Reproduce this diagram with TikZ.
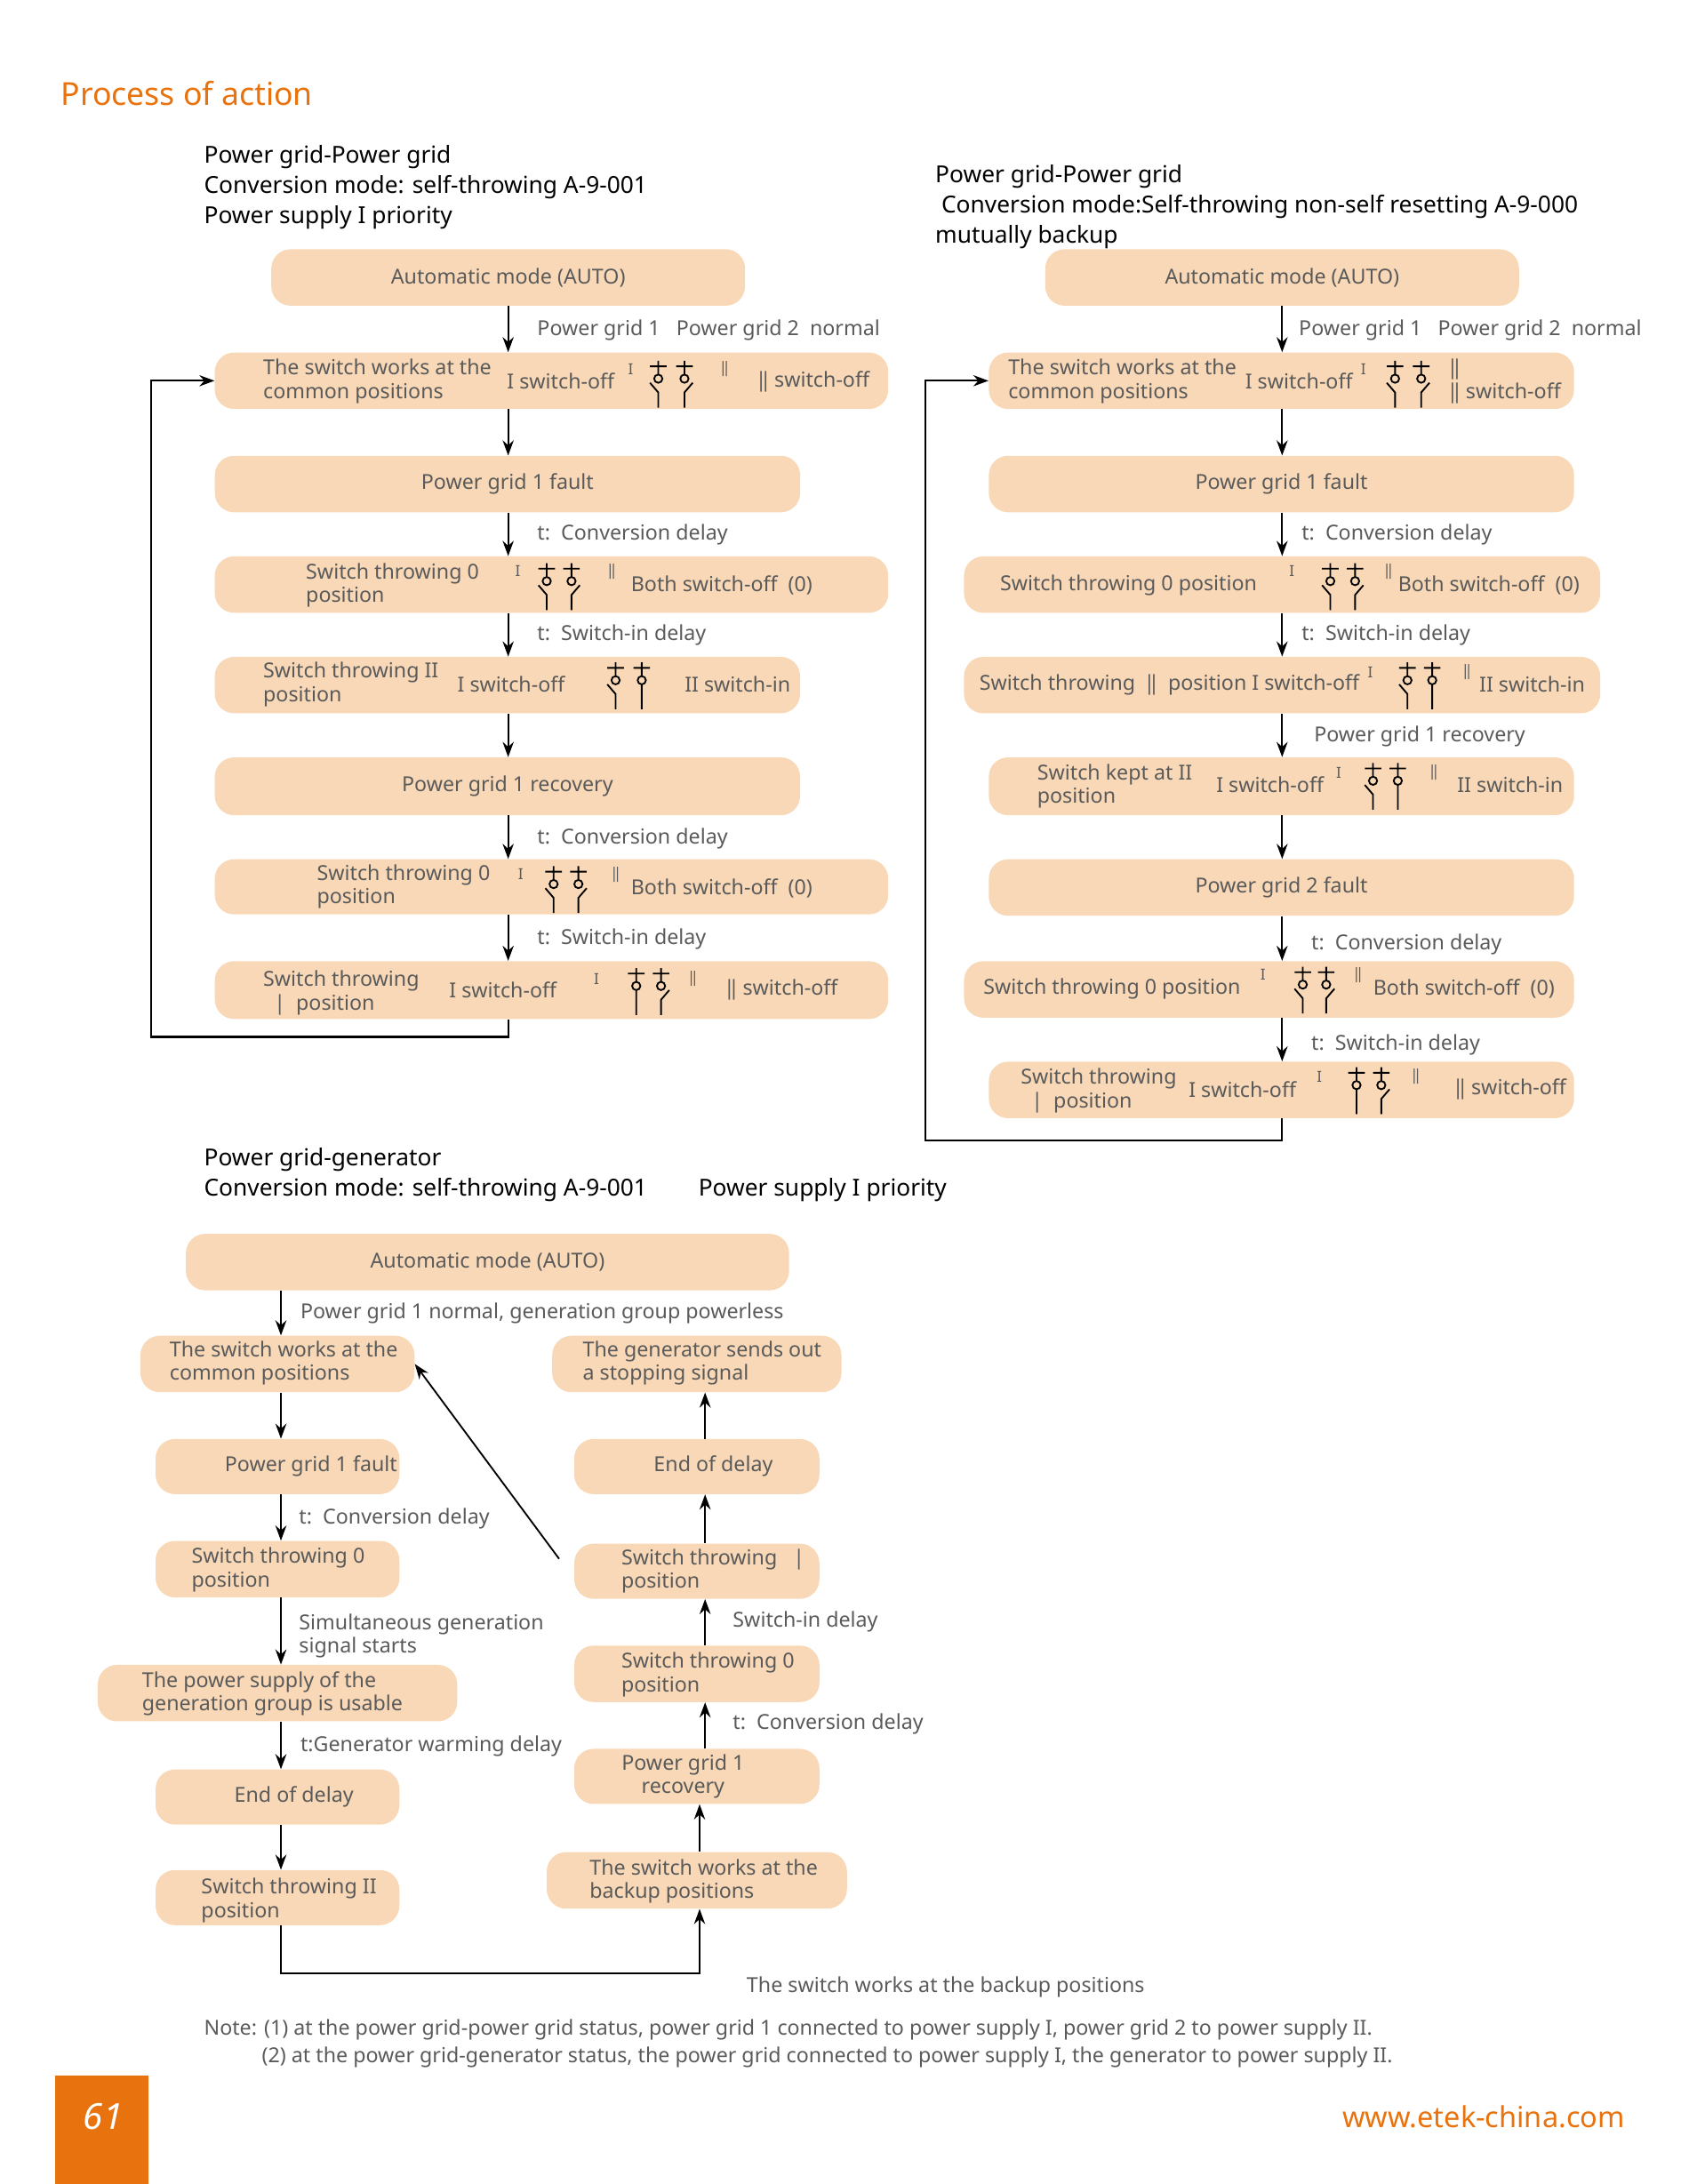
\documentclass[tikz,border=0pt]{standalone}
\usepackage{fontspec}
\setmainfont{Noto Sans}
\usetikzlibrary{arrows.meta}
\definecolor{boxc}{HTML}{F8D8B6}
\definecolor{txt}{HTML}{5A5A5A}
\definecolor{org}{HTML}{E8730E}
\tikzset{
 box/.style={fill=boxc,rounded corners=14pt,draw=none,inner sep=0},
 t/.style={anchor=west,text=txt,font=\fontsize{15}{17}\selectfont,inner sep=0,align=left},
 tc/.style={text=txt,font=\fontsize{15}{17}\selectfont,inner sep=0,align=center},
 ttl/.style={anchor=west,text=black,font=\fontsize{17}{22}\selectfont,inner sep=0,align=left},
 arr/.style={-{Stealth[length=11pt,width=8pt]},line width=1.4pt},
 ln/.style={line width=1.4pt},
 sym/.style={line width=1.2pt,black},
 swC/.pic={\draw[sym] (-6,-13)--(6,-13) (0,-17)--(0,-7) (0,-4) circle (3) (0,-1)--(0,17);},
 swR/.pic={\draw[sym] (-6,-13)--(6,-13) (0,-17)--(0,-7) (0,-4) circle (3) (6,-1)--(0,6)--(0,17);},
 swL/.pic={\draw[sym] (-6,-13)--(6,-13) (0,-17)--(0,-7) (0,-4) circle (3) (-6,-1)--(0,6)--(0,17);},
}
\newcommand\pb[5]{\node[box,minimum width={(#3-#2)*1pt},minimum height={(#5-#4)*1pt}] (#1) at ({(#2+#3)/2},{(#4+#5)/2}) {};}
\begin{document}
\begin{tikzpicture}[x=1pt,y=-1pt]
\useasboundingbox (0,0) rectangle (1232,1586);
\node[anchor=west,text=org,font=\bfseries\fontsize{23}{26}\selectfont,inner sep=0] (head) at (44,68) {Process of action};
% ===== left column =====
\node[ttl] (tl1) at (148,114) {Power grid-Power grid};
\node[ttl] (tl2) at (148,136) {Conversion mode: self-throwing A-9-001};
\node[ttl] (tl3) at (148,158) {Power supply I priority};
\coordinate (cL) at (369,0);
\pb{a1}{197}{541}{181}{222}\node[tc] (a1t) at (a1) {Automatic mode (AUTO)};
\pb{a2}{156}{645}{256}{297}
\node[t] (a2a) at (191,277) {The switch works at the\\common positions};
\node[t] (a2b) at (368,277) {I switch-off};
\node[t,font=\fontsize{11}{12}\selectfont] (a2c) at (456,268) {I};
\pic at (478,279) {swL};\pic at (497,279) {swR};
\node[t,font=\fontsize{11}{12}\selectfont] (a2d) at (523,268) {‖};
\node[t] (a2e) at (550,277) {‖ switch-off};
\pb{a3}{156}{581}{331}{372}\node[tc] (a3t) at (a3) {Power grid 1 fault};
\pb{a4}{156}{645}{404}{445}
\node[t] (a4a) at (222,425) {Switch throwing 0\\position};
\node[t,font=\fontsize{11}{12}\selectfont] (a4b) at (374,415) {I};
\pic at (397,426) {swL};\pic at (415,426) {swR};
\node[t,font=\fontsize{11}{12}\selectfont] (a4c) at (441,415) {‖};
\node[t] (a4d) at (458,425) {Both switch-off\ \ (0)};
\pb{a5}{156}{581}{477}{518}
\node[t] (a5a) at (191,497) {Switch throwing II\\position};
\node[t] (a5b) at (332,497) {I switch-off};
\pic at (447,498) {swL};\pic at (466,498) {swC};
\node[t] (a5c) at (497,497) {II switch-in};
\pb{a6}{156}{581}{550}{592}\node[tc] (a6t) at (a6) {Power grid 1 recovery};
\pb{a7}{156}{645}{624}{664}
\node[t] (a7a) at (230,644) {Switch throwing 0\\position};
\node[t,font=\fontsize{11}{12}\selectfont] (a7b) at (376,635) {I};
\pic at (402,646) {swL};\pic at (420,646) {swR};
\node[t,font=\fontsize{11}{12}\selectfont] (a7c) at (444,635) {‖};
\node[t] (a7d) at (458,645) {Both switch-off\ \ (0)};
\pb{a8}{156}{645}{698}{740}
\node[t] (a8a) at (191,721) {Switch throwing\\\ \ |\ \ position};
\node[t] (a8b) at (326,719) {I switch-off};
\node[t,font=\fontsize{11}{12}\selectfont] (a8c) at (431,711) {I};
\pic at (462,720) {swC};\pic at (480,720) {swR};
\node[t,font=\fontsize{11}{12}\selectfont] (a8d) at (500,711) {‖};
\node[t] (a8e) at (527,719) {‖ switch-off};
\draw[arr] (a1.south-|cL)--(a2.north-|cL);
\node[t] (l1) at (390,240) {Power grid 1\ \ \ Power grid 2\ \ normal};
\draw[arr] (a2.south-|cL)--(a3.north-|cL);
\draw[arr] (a3.south-|cL)--(a4.north-|cL);
\node[t] (l2) at (390,388) {t:\ \ Conversion delay};
\draw[arr] (a4.south-|cL)--(a5.north-|cL);
\node[t] (l3) at (390,461) {t:\ \ Switch-in delay};
\draw[arr] (a5.south-|cL)--(a6.north-|cL);
\draw[arr] (a6.south-|cL)--(a7.north-|cL);
\node[t] (l4) at (390,609) {t:\ \ Conversion delay};
\draw[arr] (a7.south-|cL)--(a8.north-|cL);
\node[t] (l5) at (390,682) {t:\ \ Switch-in delay};
\coordinate (lpL) at (110,753);
\draw[arr] (a8.south-|cL) |- (lpL) |- (a2.west);
% ===== right column =====
\node[ttl] (tr1) at (679,128) {Power grid-Power grid};
\node[ttl] (tr2) at (679,150) {\ Conversion mode:Self-throwing non-self resetting A-9-000};
\node[ttl] (tr3) at (679,172) {mutually backup};
\coordinate (cR) at (931,0);
\pb{b1}{759}{1103}{181}{222}\node[tc] (b1t) at (b1) {Automatic mode (AUTO)};
\pb{b2}{718}{1143}{256}{297}
\node[t] (b2a) at (732,277) {The switch works at the\\common positions};
\node[t] (b2b) at (904,277) {I switch-off};
\node[t,font=\fontsize{11}{12}\selectfont] (b2c) at (988,268) {I};
\pic at (1013,279) {swL};\pic at (1032,279) {swR};
\node[t] (b2d) at (1052,277) {‖\\‖ switch-off};
\pb{b3}{718}{1143}{331}{372}\node[tc] (b3t) at (b3) {Power grid 1 fault};
\pb{b4}{700}{1162}{404}{445}
\node[t] (b4a) at (726,425) {Switch throwing 0 position};
\node[t,font=\fontsize{11}{12}\selectfont] (b4b) at (936,415) {I};
\pic at (966,426) {swL};\pic at (984,426) {swR};
\node[t,font=\fontsize{11}{12}\selectfont] (b4c) at (1005,415) {‖};
\node[t] (b4d) at (1015,425) {Both switch-off\ \ (0)};
\pb{b5}{700}{1162}{477}{518}
\node[t] (b5a) at (711,497) {Switch throwing\ \ ‖\ \ position\ I switch-off};
\node[t,font=\fontsize{11}{12}\selectfont] (b5b) at (993,488) {I};
\pic at (1022,498) {swL};\pic at (1040,498) {swC};
\node[t,font=\fontsize{11}{12}\selectfont] (b5c) at (1062,488) {‖};
\node[t] (b5d) at (1074,497) {II switch-in};
\pb{b6}{718}{1143}{550}{592}
\node[t] (b6a) at (753,571) {Switch kept at II\\position};
\node[t] (b6b) at (883,570) {I switch-off};
\node[t,font=\fontsize{11}{12}\selectfont] (b6c) at (970,561) {I};
\pic at (997,571) {swL};\pic at (1015,571) {swC};
\node[t,font=\fontsize{11}{12}\selectfont] (b6d) at (1038,561) {‖};
\node[t] (b6e) at (1058,570) {II switch-in};
\pb{b7}{718}{1143}{624}{665}\node[tc] (b7t) at (b7) {Power grid 2 fault};
\pb{b8}{700}{1143}{698}{739}
\node[t] (b8a) at (714,718) {Switch throwing 0 position};
\node[t,font=\fontsize{11}{12}\selectfont] (b8b) at (915,708) {I};
\pic at (946,719) {swL};\pic at (963,719) {swR};
\node[t,font=\fontsize{11}{12}\selectfont] (b8c) at (983,708) {‖};
\node[t] (b8d) at (997,718) {Both switch-off\ \ (0)};
\pb{b9}{718}{1143}{771}{812}
\node[t] (b9a) at (741,792) {Switch throwing\\\ \ |\ \ position};
\node[t] (b9b) at (863,791) {I switch-off};
\node[t,font=\fontsize{11}{12}\selectfont] (b9c) at (956,782) {I};
\pic at (985,792) {swC};\pic at (1003,792) {swR};
\node[t,font=\fontsize{11}{12}\selectfont] (b9d) at (1025,782) {‖};
\node[t] (b9e) at (1056,791) {‖ switch-off};
\draw[arr] (b1.south-|cR)--(b2.north-|cR);
\node[t] (m1) at (943,240) {Power grid 1\ \ \ Power grid 2\ \ normal};
\draw[arr] (b2.south-|cR)--(b3.north-|cR);
\draw[arr] (b3.south-|cR)--(b4.north-|cR);
\node[t] (m2) at (945,388) {t:\ \ Conversion delay};
\draw[arr] (b4.south-|cR)--(b5.north-|cR);
\node[t] (m3) at (945,461) {t:\ \ Switch-in delay};
\draw[arr] (b5.south-|cR)--(b6.north-|cR);
\node[t] (m4) at (954,535) {Power grid 1 recovery};
\draw[arr] (b6.south-|cR)--(b7.north-|cR);
\draw[arr] (b7.south-|cR)--(b8.north-|cR);
\node[t] (m5) at (952,686) {t:\ \ Conversion delay};
\draw[arr] (b8.south-|cR)--(b9.north-|cR);
\node[t] (m6) at (952,759) {t:\ \ Switch-in delay};
\coordinate (lpR) at (672,828);
\draw[arr] (b9.south-|cR) |- (lpR) |- (b2.west);
% ===== bottom =====
\node[ttl] (tb1) at (148,842) {Power grid-generator};
\node[ttl] (tb2) at (148,864) {Conversion mode: self-throwing A-9-001};
\node[ttl] (tb3) at (507,864) {Power supply I priority};
\coordinate (cB) at (204,0);\coordinate (cB2) at (512,0);
\pb{c0}{135}{573}{896}{937}\node[tc] (c0t) at (c0) {Automatic mode (AUTO)};
\pb{c1}{102}{301}{970}{1011}\node[t] (c1t) at (123,990) {The switch works at the\\common positions};
\pb{c2}{113}{290}{1045}{1085}\node[t] (c2t) at (163,1065) {Power grid 1 fault};
\pb{c3}{113}{290}{1119}{1160}\node[t] (c3t) at (139,1140) {Switch throwing 0\\position};
\pb{c4}{71}{332}{1209}{1250}\node[t] (c4t) at (103,1230) {The power supply of the\\generation group is usable};
\pb{c5}{113}{290}{1285}{1325}\node[t] (c5t) at (170,1305) {End of delay};
\pb{c6}{113}{290}{1358}{1398}\node[t] (c6t) at (146,1380) {Switch throwing II\\position};
\pb{d1}{397}{615}{1345}{1386}\node[t] (d1t) at (428,1366) {The switch works at the\\backup positions};
\pb{d2}{417}{595}{1270}{1310}\node[tc] (d2t) at (496,1290) {Power grid 1\\recovery};
\pb{d3}{417}{595}{1195}{1236}\node[t] (d3t) at (451,1216) {Switch throwing 0\\position};
\pb{d4}{417}{595}{1121}{1161}\node[t] (d4t) at (451,1141) {Switch throwing\ \ \ |\\position};
\pb{d5}{417}{595}{1045}{1085}\node[tc] (d5t) at (518,1065) {End of delay};
\pb{d6}{401}{611}{970}{1011}\node[t] (d6t) at (423,990) {The generator sends out\\a stopping signal};
\draw[arr] (c0.south-|cB)--(c1.north-|cB);
\node[t] (n1) at (218,954) {Power grid 1 normal, generation group powerless};
\draw[arr] (c1.south-|cB)--(c2.north-|cB);
\draw[arr] (c2.south-|cB)--(c3.north-|cB);
\node[t] (n2) at (217,1103) {t:\ \ Conversion delay};
\draw[arr] (c3.south-|cB)--(c4.north-|cB);
\node[t] (n3) at (217,1188) {Simultaneous generation\\signal starts};
\draw[arr] (c4.south-|cB)--(c5.north-|cB);
\node[t] (n4) at (218,1268) {t:Generator warming delay};
\draw[arr] (c5.south-|cB)--(c6.north-|cB);
\coordinate (cB3) at (508,0);\coordinate (lpB) at (204,1433);
\draw[arr] (c6.south-|cB) -- (lpB) -| (d1.south-|cB3);
\draw[arr] (d1.north-|cB3)--(d2.south-|cB3);
\draw[arr] (d2.north-|cB2)--(d3.south-|cB2);
\node[t] (n5) at (532,1252) {t:\ \ Conversion delay};
\draw[arr] (d3.north-|cB2)--(d4.south-|cB2);
\node[t] (n6) at (532,1178) {Switch-in delay};
\draw[arr] (d4.north-|cB2)--(d5.south-|cB2);
\draw[arr] (d5.north-|cB2)--(d6.south-|cB2);
\coordinate (dg) at (406,1132);
\draw[arr,line width=1.2pt] (dg) -- (c1.east);
\node[t] (n7) at (542,1443) {The switch works at the backup positions};
\node[t] (note1) at (148,1474) {Note: (1) at the power grid-power grid status, power grid 1 connected to power supply I, power grid 2 to power supply II.};
\node[t] (note2) at (190,1494) {(2) at the power grid-generator status, the power grid connected to power supply I, the generator to power supply II.};
\node[fill=org,minimum width=68pt,minimum height=80pt,inner sep=0] (pg) at (74,1547) {};
\node[text=white,font=\itshape\fontsize{26}{28}\selectfont] (pgt) at (75,1537) {61};
\node[anchor=east,text=org,font=\fontsize{21}{24}\selectfont,inner sep=0] (www) at (1180,1537) {www.etek-china.com};
\end{tikzpicture}
\end{document}
